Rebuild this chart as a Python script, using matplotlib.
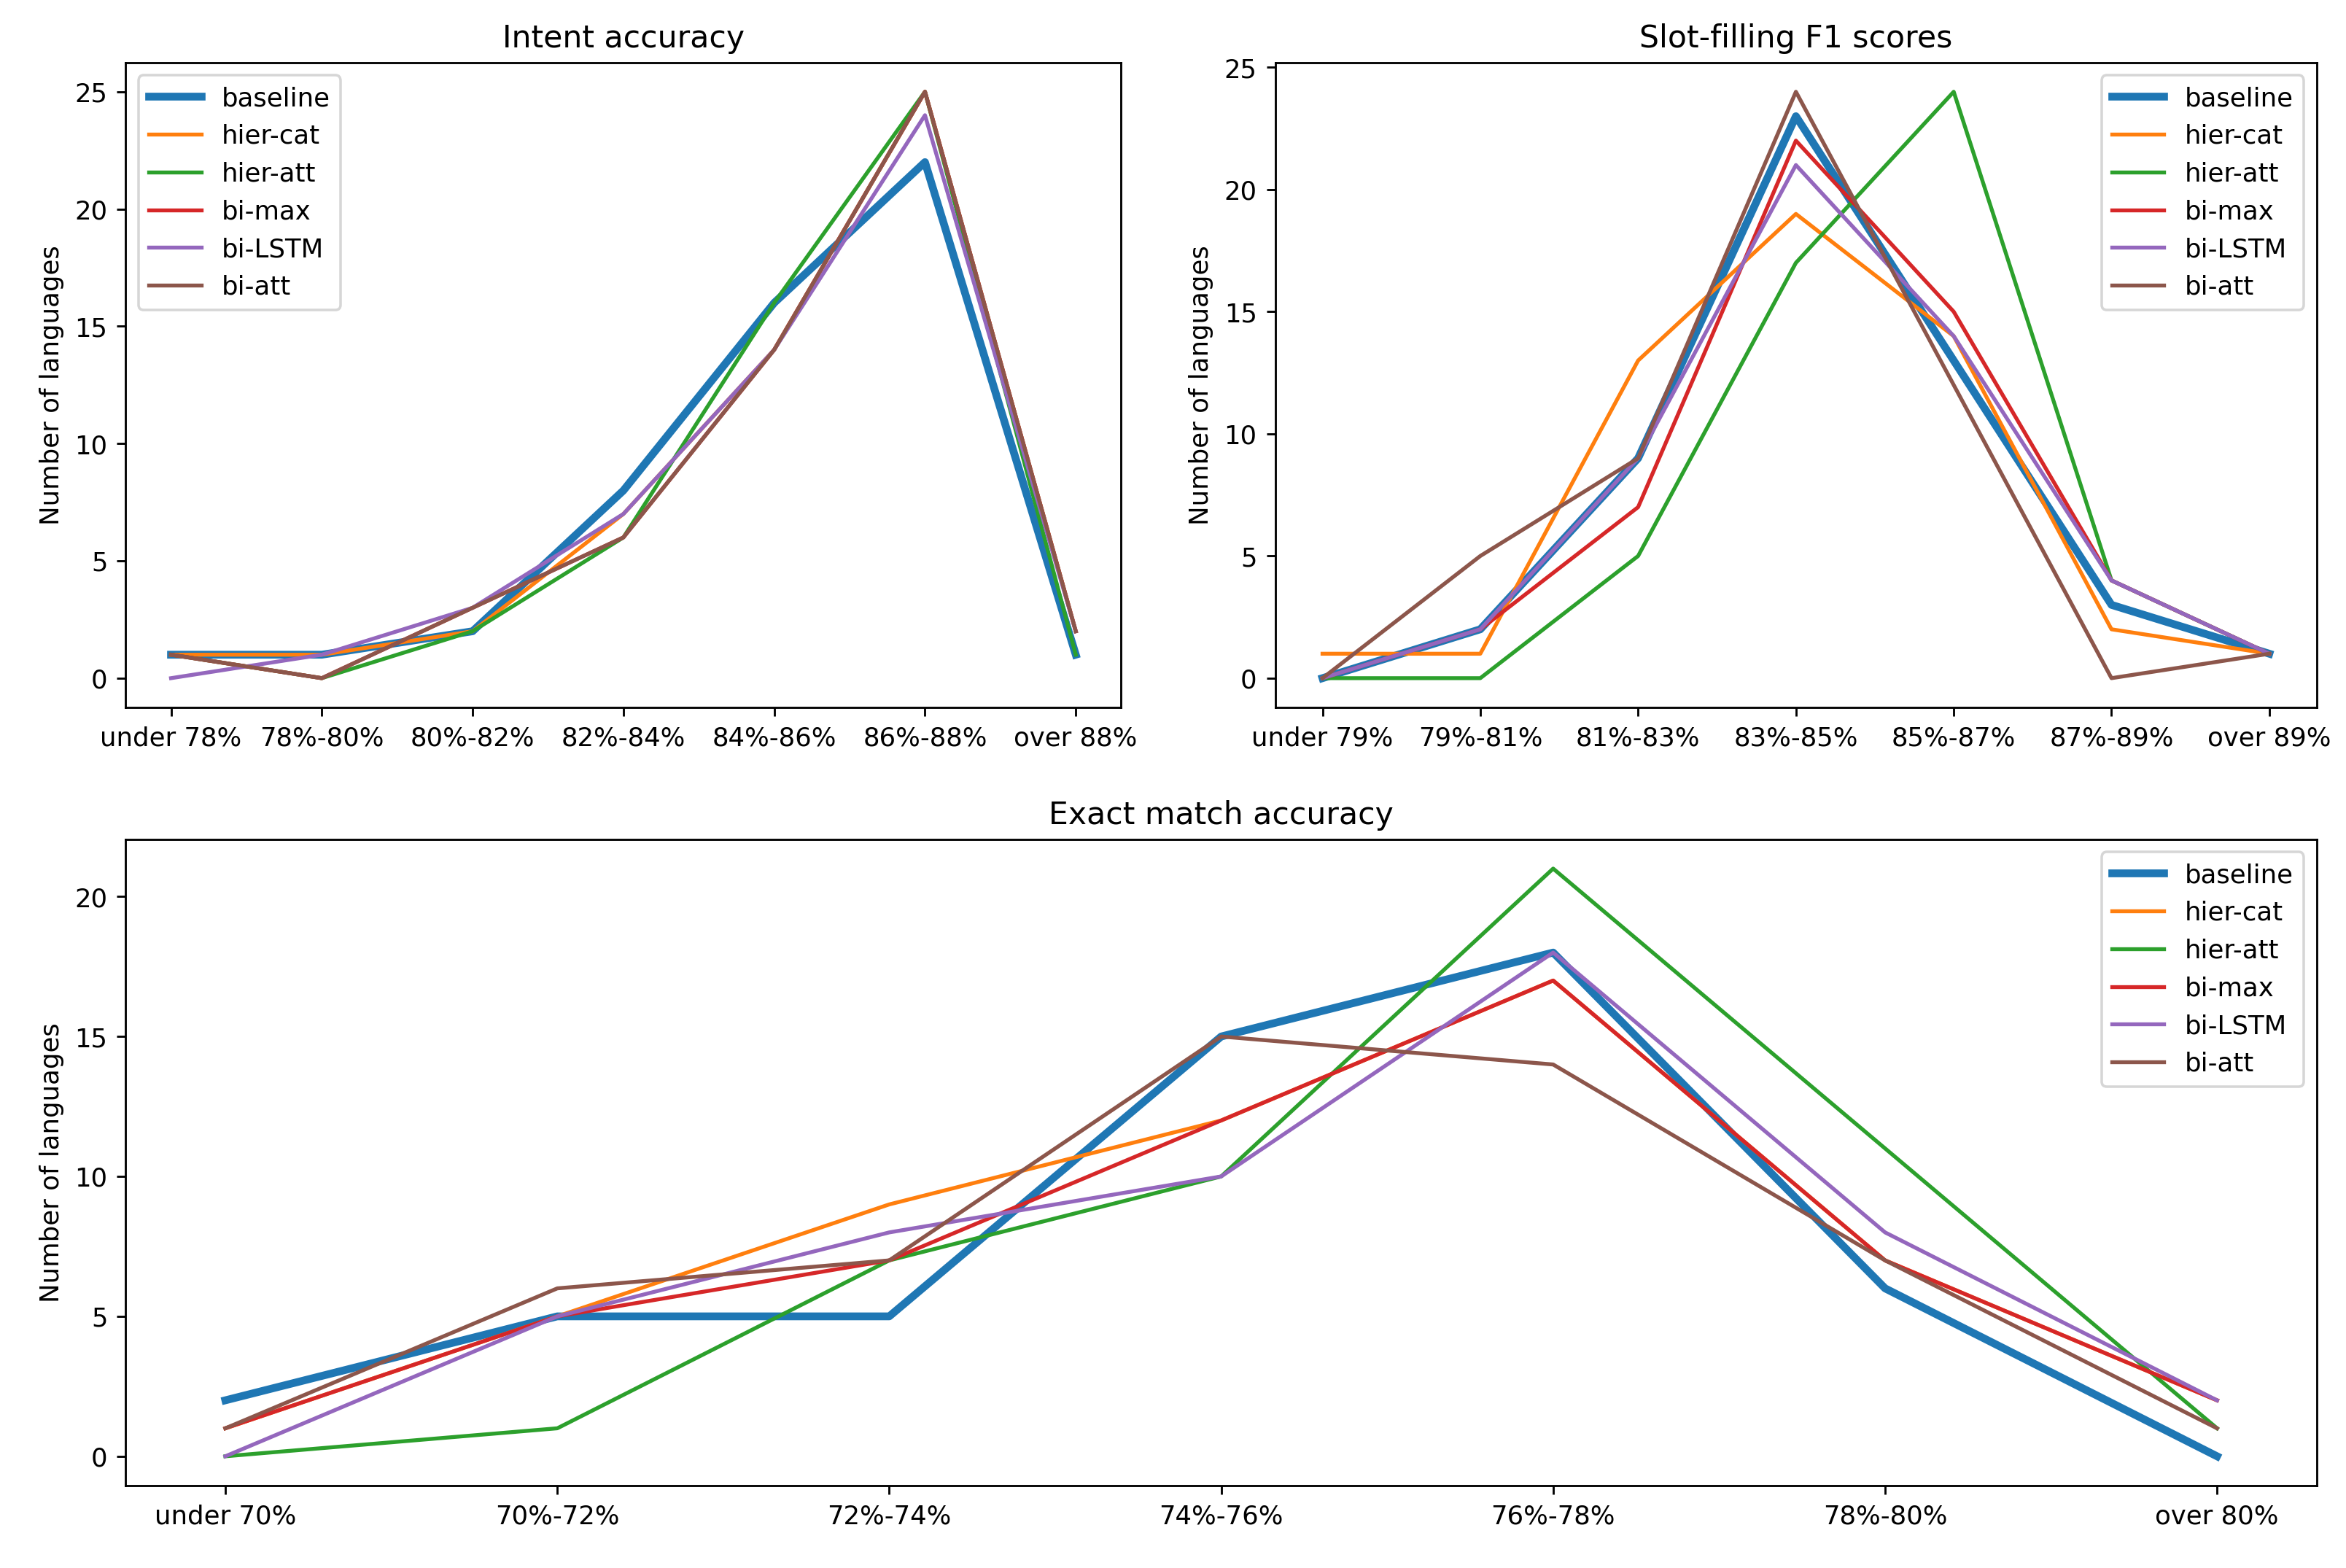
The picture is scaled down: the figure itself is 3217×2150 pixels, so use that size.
import matplotlib
matplotlib.use("Agg")
import matplotlib.pyplot as plt

# models (legend order)
models = ["baseline", "hier-cat", "hier-att", "bi-max", "bi-LSTM", "bi-att"]

# Intent accuracy histogram
intent_bins = ["under 78%", "78%-80%", "80%-82%", "82%-84%", "84%-86%", "86%-88%", "over 88%"]
intent_baseline = [1, 1, 2, 8, 16, 22, 1]
intent_hiercat = [1, 1, 2, 7, 14, 25, 2]
intent_hieratt = [1, 0, 2, 6, 16, 25, 1]
intent_bimax = [1, 0, 3, 6, 14, 25, 2]
intent_bilstm = [0, 1, 3, 7, 14, 24, 2]
intent_biatt = [1, 0, 3, 6, 14, 25, 2]

# Slot-filling F1 histogram
slot_bins = ["under 79%", "79%-81%", "81%-83%", "83%-85%", "85%-87%", "87%-89%", "over 89%"]
slot_baseline = [0, 2, 9, 23, 13, 3, 1]
slot_hiercat = [1, 1, 13, 19, 14, 2, 1]
slot_hieratt = [0, 0, 5, 17, 24, 4, 1]
slot_bimax = [0, 2, 7, 22, 15, 4, 1]
slot_bilstm = [0, 2, 9, 21, 14, 4, 1]
slot_biatt = [0, 5, 9, 24, 12, 0, 1]

# Exact match histogram
exact_bins = ["under 70%", "70%-72%", "72%-74%", "74%-76%", "76%-78%", "78%-80%", "over 80%"]
exact_baseline = [2, 5, 5, 15, 18, 6, 0]
exact_hiercat = [1, 5, 9, 12, 17, 7, 2]
exact_hieratt = [0, 1, 7, 10, 21, 11, 1]
exact_bimax = [1, 5, 7, 12, 17, 7, 2]
exact_bilstm = [0, 5, 8, 10, 18, 8, 2]
exact_biatt = [1, 6, 7, 15, 14, 7, 1]

fig = plt.figure(figsize=(12.57, 8.40), dpi=256)
ax1 = fig.add_axes([0.0536, 0.5487, 0.4241, 0.4113])
ax2 = fig.add_axes([0.5434, 0.5487, 0.4438, 0.4113])
ax3 = fig.add_axes([0.0536, 0.0525, 0.9336, 0.4122])


def draw(ax, bins, series, title, loc):
    x = list(range(len(bins)))
    for name, vals in zip(models, series):
        lw = 3 if name == "baseline" else 1.5
        ax.plot(x, vals, label=name, linewidth=lw)
    ax.set_xticks(x)
    ax.set_xticklabels(bins)
    ax.set_title(title)
    ax.set_ylabel("Number of languages")
    ax.legend(loc=loc)


draw(ax1, intent_bins,
     [intent_baseline, intent_hiercat, intent_hieratt, intent_bimax, intent_bilstm, intent_biatt],
     "Intent accuracy", "upper left")
draw(ax2, slot_bins,
     [slot_baseline, slot_hiercat, slot_hieratt, slot_bimax, slot_bilstm, slot_biatt],
     "Slot-filling F1 scores", "upper right")
draw(ax3, exact_bins,
     [exact_baseline, exact_hiercat, exact_hieratt, exact_bimax, exact_bilstm, exact_biatt],
     "Exact match accuracy", "upper right")

fig.savefig("out.png", dpi=256)
